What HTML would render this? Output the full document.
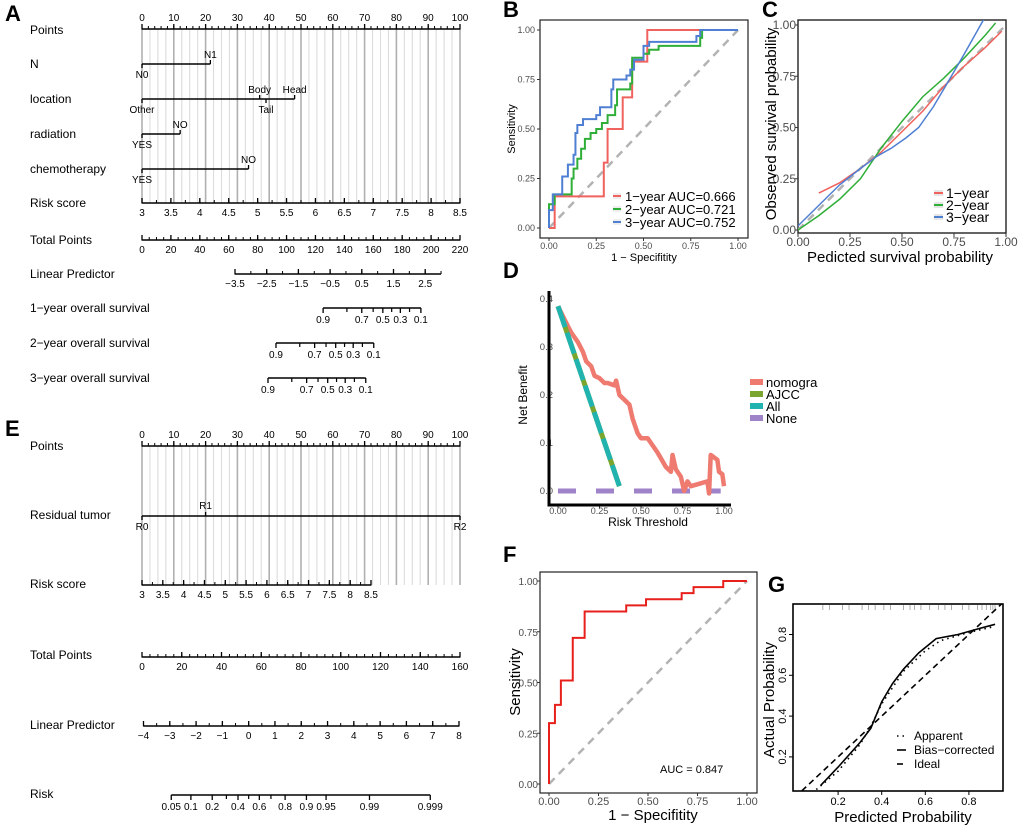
<!DOCTYPE html>
<html><head><meta charset="utf-8">
<style>
html,body{margin:0;padding:0;background:#fff;}
svg{display:block;font-family:"Liberation Sans",Arial,sans-serif;}
</style></head>
<body>
<svg id="fig" width="1020" height="827" viewBox="0 0 1020 827" xmlns="http://www.w3.org/2000/svg"></svg>
<script>
// ---------- data ----------
const ptsTicks=[0,10,20,30,40,50,60,70,80,90,100];
const nLevels=['N0','N1'];
const nPoints=[0,21.5];
const locLevels=['Other','Body','Tail','Head'];
const locPoints=[0,37,39,48];
const radLevels=['YES','NO'];
const radPoints=[0,12];
const chemoLevels=['YES','NO'];
const chemoPoints=[0,33.5];
const riskTicksA=[3,3.5,4,4.5,5,5.5,6,6.5,7,7.5,8,8.5];
const totalTicksA=[0,20,40,60,80,100,120,140,160,180,200,220];
const lpTicksA=[-3.5,-2.5,-1.5,-0.5,0.5,1.5,2.5];
const survLabels=[0.9,0.7,0.5,0.3,0.1];
const survMinor=[0.8,0.6,0.4,0.2];
const survConst=[1.53,0.043,-0.209];
const residLevels=['R0','R1','R2'];
const residPoints=[0,20,100];
const riskTicksE=[3,3.5,4,4.5,5,5.5,6,6.5,7,7.5,8,8.5];
const totalTicksE=[0,20,40,60,80,100,120,140,160];
const lpTicksE=[-4,-3,-2,-1,0,1,2,3,4,5,6,7,8];
const riskProbE=[0.05,0.1,0.2,0.4,0.6,0.8,0.9,0.95,0.99,0.999];
const riskProbMinorE=[0.3,0.5,0.7];

const rocB_fpr1=[0,0.03,0.29,0.31,0.39,0.44,0.52,1];
const rocB_tpr1=[0,0.16,0.33,0.5,0.66,0.84,1,1];
const rocB_fpr2=[0,0,0.03,0.12,0.13,0.15,0.17,0.19,0.22,0.25,0.28,0.31,0.35,0.36,0.43,0.44,0.5,0.53,0.58,0.78,0.8,0.81,1];
const rocB_tpr2=[0,0.12,0.17,0.25,0.3,0.35,0.4,0.45,0.48,0.5,0.53,0.57,0.62,0.7,0.73,0.86,0.88,0.9,0.92,0.92,0.96,1,1];
const rocB_fpr3=[0,0,0.02,0.07,0.1,0.13,0.14,0.15,0.18,0.25,0.27,0.33,0.34,0.41,0.43,0.45,0.5,0.53,0.76,0.78,0.8,1];
const rocB_tpr3=[0,0.09,0.17,0.26,0.32,0.37,0.48,0.52,0.55,0.57,0.61,0.7,0.75,0.77,0.8,0.85,0.92,0.94,0.94,0.97,1,1];
const rocTicks=[0,0.25,0.5,0.75,1];
const rocTickLabels=['0.00','0.25','0.50','0.75','1.00'];

const calC_x1=[0.1,0.2,0.3,0.4,0.5,0.6,0.7,0.8,0.9,0.98];
const calC_y1=[0.18,0.23,0.3,0.38,0.48,0.58,0.7,0.8,0.89,0.97];
const calC_x2=[0,0.1,0.2,0.3,0.4,0.5,0.6,0.7,0.8,0.9,0.95];
const calC_y2=[0,0.07,0.15,0.25,0.4,0.53,0.65,0.74,0.84,0.95,1.01];
const calC_x3=[0,0.1,0.2,0.3,0.38,0.45,0.52,0.58,0.65,0.72,0.8,0.85,0.9];
const calC_y3=[0.02,0.12,0.22,0.3,0.36,0.4,0.45,0.5,0.6,0.72,0.86,0.95,1.04];

const dcaThr=[0,0.05,0.08,0.12,0.15,0.17,0.2,0.22,0.25,0.28,0.3,0.34,0.35,0.37,0.4,0.43,0.45,0.48,0.5,0.54,0.56,0.6,0.65,0.68,0.69,0.71,0.74,0.76,0.78,0.8,0.85,0.9,0.91,0.92,0.96,0.97,0.99,1.0];
const dcaNomo=[0.385,0.35,0.33,0.31,0.29,0.27,0.26,0.24,0.235,0.225,0.225,0.22,0.23,0.2,0.19,0.18,0.15,0.12,0.11,0.11,0.1,0.08,0.05,0.04,0.075,0.045,0.03,0.0,0.02,0.01,0.015,0.02,-0.005,0.075,0.065,0.04,0.035,0.01];
const dcaAllThr=[0,0.37];
const dcaAll=[0.385,0.01];
const dcaNoneThr=[0,0.98];
const dcaNone=[0,0];
const dcaTicksY=[0,0.1,0.2,0.3,0.4];
const dcaTickLabelsY=['0.0','0.1','0.2','0.3','0.4'];

const rocF_fpr=[0,0,0.03,0.06,0.12,0.18,0.39,0.49,0.67,0.73,0.88,1];
const rocF_tpr=[0,0.3,0.39,0.51,0.72,0.85,0.88,0.91,0.94,0.97,1,1];

const calG_xb=[0.12,0.2,0.3,0.35,0.4,0.45,0.5,0.57,0.65,0.75,0.85,0.92];
const calG_yb=[0.06,0.15,0.27,0.34,0.47,0.56,0.63,0.71,0.78,0.8,0.83,0.85];
const calG_xa=[0.1,0.2,0.3,0.35,0.4,0.5,0.6,0.67,0.8,0.92];
const calG_ya=[0.04,0.13,0.26,0.35,0.46,0.62,0.72,0.77,0.81,0.84];
const calG_rug=[0.13,0.16,0.22,0.25,0.31,0.34,0.37,0.41,0.44,0.5,0.53,0.55,0.58,0.62,0.66,0.69,0.72,0.77,0.8,0.84,0.86,0.88,0.9,0.91,0.92];
const calGTicks=[0.2,0.4,0.6,0.8];

// ---------- helpers ----------
const NS='http://www.w3.org/2000/svg';
const svg=document.getElementById('fig');
function el(tag,attrs,parent,name){
  const e=document.createElementNS(NS,tag);
  for(const k in attrs) e.setAttribute(k,attrs[k]);
  
  
  (parent||svg).appendChild(e);
  return e;
}
function txt(parent,x,y,s,size,anchor,name,extra){
  const t=el('text',Object.assign({x:x,y:y,'font-size':size,'text-anchor':anchor||'middle'},extra||{}),parent,name);
  t.textContent=s;return t;
}
function line(p,x1,y1,x2,y2,st,w,name,extra){
  return el('line',Object.assign({x1:x1,y1:y1,x2:x2,y2:y2,stroke:st,'stroke-width':w},extra||{}),p,name);
}
function grp(name){return el('g',{},svg,name);}
function fmt(v){return String(v);}

// ---------- panel labels ----------
[['A',5,21],['B',503,17],['C',762,17],['D',503,278],['E',5,436],['F',503,562],['G',768,592]].forEach(function(a){
  txt(svg,a[1],a[2],a[0],22,'start','panel-label-'+a[0].toLowerCase(),{'font-weight':'bold'});
});

// ---------- nomogram helpers ----------
function vgrid(g,x,y0,y1,maxPts){
  for(let v=0;v<=maxPts+0.01;v+=2.5){
    const major=Math.abs(v%10)<0.01;
    line(g,x(v),y0,x(v),y1,major?'#b0b0b0':'#dcdcdc',major?1.6:1.1,'grid-line');
  }
}
function contAxis(g,y,xmap,ticks,minorStep,lo,hi,labelsAbove,prefix){
  line(g,xmap(lo),y,xmap(hi),y,'#000',1.4,prefix+'-axis-line');
  if(minorStep){
    for(let v=lo;v<=hi+1e-6;v+=minorStep){line(g,xmap(v),y,xmap(v),y-3,'#000',1,prefix+'-minor-tick');}
  }
  ticks.forEach(function(v){
    line(g,xmap(v),y+0.5,xmap(v),y-5,'#000',1.3,prefix+'-tick');
    txt(g,xmap(v),labelsAbove?y-8:y+13,fmt(v).replace('-','\u2212'),10,'middle',prefix+'-tick-label');
  });
}
function catAxis(g,y,xmap,levels,pts,prefix){
  line(g,xmap(Math.min.apply(null,pts)),y,xmap(Math.max.apply(null,pts)),y,'#000',1.4,prefix+'-axis-line');
  const idx=pts.map(function(p,i){return i;}).sort(function(a,b){return pts[a]-pts[b];});
  idx.forEach(function(i,k){
    const above=k%2===1;
    line(g,xmap(pts[i]),y,xmap(pts[i]),above?y-4:y+4,'#000',1.3,prefix+'-tick');
    txt(g,xmap(pts[i]),above?y-6:y+14,levels[i],10,'middle',prefix+'-level-label');
  });
}
function rowLabel(g,y,s,name){txt(g,30,y+4,s,12,'start',name);}

// ---------- Panel A ----------
(function(){
  const g=grp('nomogram-a');
  const px=function(v){return 142+v*3.18;};
  vgrid(g,px,29,203,100);
  rowLabel(g,30,'Points','points-label');
  contAxis(g,29,px,ptsTicks,2,0,100,true,'points');
  rowLabel(g,64,'N','n-label');
  catAxis(g,64,px,nLevels,nPoints,'n');
  rowLabel(g,99,'location','location-label');
  catAxis(g,99,px,locLevels,locPoints,'location');
  rowLabel(g,134,'radiation','radiation-label');
  catAxis(g,134,px,radLevels,radPoints,'radiation');
  rowLabel(g,169,'chemotherapy','chemotherapy-label');
  catAxis(g,169,px,chemoLevels,chemoPoints,'chemotherapy');
  rowLabel(g,203,'Risk score','risk-score-label');
  const rx=function(v){return 142+(v-3)*(318/5.5);};
  contAxis(g,203,rx,riskTicksA,0.25,3,8.5,false,'risk-score');
  rowLabel(g,240,'Total Points','total-points-label');
  const tx=function(v){return 142+v*(318/220);};
  contAxis(g,240,tx,totalTicksA,5,0,220,false,'total-points');
  rowLabel(g,274,'Linear Predictor','linear-predictor-label');
  const lx=function(v){return 235+(v+3.5)*31.7;};
  contAxis(g,274,lx,lpTicksA,0.5,-3.5,3.0,false,'linear-predictor');
  ['1\u2212year overall survival','2\u2212year overall survival','3\u2212year overall survival'].forEach(function(lab,i){
    const y=308+i*35;
    rowLabel(g,y,lab,'survival-'+(i+1)+'-year-label');
    const sx=function(s){return lx(Math.log(-Math.log(s))+survConst[i]);};
    line(g,sx(0.9),y,sx(0.1),y,'#000',1.4,'survival-axis-line');
    survMinor.forEach(function(s){line(g,sx(s),y,sx(s),y+4,'#000',1.2,'survival-minor-tick');});
    survLabels.forEach(function(s){
      line(g,sx(s),y,sx(s),y+5,'#000',1.3,'survival-tick');
      txt(g,sx(s),y+15,String(s),10,'middle','survival-tick-label');
    });
  });
})();

// ---------- Panel E ----------
(function(){
  const g=grp('nomogram-e');
  const px=function(v){return 142+v*3.18;};
  vgrid(g,px,446,585,100);
  rowLabel(g,446,'Points','points-label-e');
  contAxis(g,446,px,ptsTicks,2,0,100,true,'points-e');
  rowLabel(g,515,'Residual tumor','residual-tumor-label');
  line(g,px(0),516,px(100),516,'#000',1.4,'residual-axis-line');
  residLevels.forEach(function(l,i){
    const above=i===1;
    line(g,px(residPoints[i]),516,px(residPoints[i]),above?512:520,'#000',1.3,'residual-tick');
    txt(g,px(residPoints[i]),above?509:530,l,10,'middle','residual-level-label');
  });
  rowLabel(g,584,'Risk score','risk-score-label-e');
  const rx=function(v){return 142+(v-3)*(229/5.5);};
  contAxis(g,585,rx,riskTicksE,0.25,3,8.5,false,'risk-score-e');
  rowLabel(g,655,'Total Points','total-points-label-e');
  const tx=function(v){return 142+v*(318/160);};
  contAxis(g,657,tx,totalTicksE,4,0,160,false,'total-points-e');
  rowLabel(g,725,'Linear Predictor','linear-predictor-label-e');
  const lx=function(v){return 143.5+(v+4)*(315.5/12);};
  contAxis(g,726,lx,lpTicksE,0.5,-4,8,false,'linear-predictor-e');
  rowLabel(g,794,'Risk','risk-label-e');
  const kx=function(p){return lx(Math.log(p/(1-p)));};
  line(g,kx(0.05),795,kx(0.999),795,'#000',1.4,'risk-axis-line');
  riskProbMinorE.forEach(function(p){line(g,kx(p),795,kx(p),799,'#000',1.2,'risk-minor-tick');});
  riskProbE.forEach(function(p){
    line(g,kx(p),795,kx(p),800,'#000',1.3,'risk-tick');
    txt(g,kx(p),810,String(p),10,'middle','risk-tick-label');
  });
})();

// ---------- generic chart helpers ----------
function stepPath(xs,ys,sx,sy){
  let d='M'+sx(xs[0])+','+sy(ys[0]);
  for(let i=1;i<xs.length;i++){d+=' H'+sx(xs[i])+' V'+sy(ys[i]);}
  return d;
}
function polyPath(xs,ys,sx,sy){
  return xs.map(function(x,i){return (i?'L':'M')+sx(x)+','+sy(ys[i]);}).join(' ');
}

// ---------- Panel B ----------
(function(){
  const g=grp('roc-chart-b');
  const sx=function(v){return 549+v*189;}, sy=function(v){return 228-v*198;};
  el('rect',{x:540,y:20,width:208,height:218,fill:'none',stroke:'#222','stroke-width':1.2},g,'plot-frame');
  rocTicks.forEach(function(v,i){
    line(g,sx(v),238,sx(v),241,'#333',1,'x-tick');
    txt(g,sx(v),249,rocTickLabels[i],9,'middle','x-tick-label',{fill:'#4d4d4d'});
    line(g,537,sy(v),540,sy(v),'#333',1,'y-tick');
    txt(g,535,sy(v)+3,rocTickLabels[i],9,'end','y-tick-label',{fill:'#4d4d4d'});
  });
  txt(g,644,261,'1 \u2212 Specifitity',11,'middle','x-axis-title');
  txt(g,0,0,'Sensitivity',11,'middle','y-axis-title',{transform:'translate(515,129) rotate(-90)'});
  line(g,sx(0),sy(0),sx(1),sy(1),'#b3b3b3',2.5,'reference-diagonal',{'stroke-dasharray':'8,6'});
  el('path',{d:stepPath(rocB_fpr1,rocB_tpr1,sx,sy),fill:'none',stroke:'#f0625e','stroke-width':2},g,'roc-1-year');
  el('path',{d:stepPath(rocB_fpr2,rocB_tpr2,sx,sy),fill:'none',stroke:'#2fae38','stroke-width':2},g,'roc-2-year');
  el('path',{d:stepPath(rocB_fpr3,rocB_tpr3,sx,sy),fill:'none',stroke:'#4f7fd3','stroke-width':2},g,'roc-3-year');
  [['1\u2212year AUC=0.666','#f0625e'],['2\u2212year AUC=0.721','#2fae38'],['3\u2212year AUC=0.752','#4f7fd3']].forEach(function(a,i){
    const y=196+i*13;
    el('rect',{x:613,y:y-3,width:8,height:6,fill:'#eee'},g,'legend-key-bg');
    line(g,613,y,621,y,a[1],2,'legend-key');
    txt(g,625,y+5,a[0],13,'start','legend-entry');
  });
})();

// ---------- Panel C ----------
(function(){
  const g=grp('calibration-chart-c');
  const sx=function(v){return 798+v*208;}, sy=function(v){return 230-v*205;};
  const clip=el('clipPath',{id:'clipC'},g,'clip-c');
  el('rect',{x:798,y:20,width:208,height:213},clip,'clip-rect');
  el('rect',{x:798,y:20,width:208,height:213,fill:'none',stroke:'#222','stroke-width':1.4},g,'plot-frame');
  rocTicks.forEach(function(v,i){
    line(g,sx(v),233,sx(v),237,'#333',1,'x-tick');
    txt(g,sx(v),246,rocTickLabels[i],12,'middle','x-tick-label',{fill:'#4d4d4d'});
    line(g,795,sy(v),798,sy(v),'#333',1,'y-tick');
    txt(g,796,sy(v)+4,rocTickLabels[i],12,'end','y-tick-label',{fill:'#4d4d4d'});
  });
  txt(g,900,262,'Pedicted survival probability',15,'middle','x-axis-title');
  txt(g,0,0,'Observed survival probability',15,'middle','y-axis-title',{transform:'translate(776,124) rotate(-90)'});
  const cg=el('g',{'clip-path':'url(#clipC)'},g,'plot-lines');
  line(cg,sx(0),sy(0),sx(1),sy(1),'#b3b3b3',2.5,'ideal-diagonal',{'stroke-dasharray':'8,6'});
  el('path',{d:polyPath(calC_x1,calC_y1,sx,sy),fill:'none',stroke:'#f0625e','stroke-width':1.5},cg,'calibration-1-year');
  el('path',{d:polyPath(calC_x2,calC_y2,sx,sy),fill:'none',stroke:'#2fae38','stroke-width':1.5},cg,'calibration-2-year');
  el('path',{d:polyPath(calC_x3,calC_y3,sx,sy),fill:'none',stroke:'#4f7fd3','stroke-width':1.5},cg,'calibration-3-year');
  [['1\u2212year','#f0625e'],['2\u2212year','#2fae38'],['3\u2212year','#4f7fd3']].forEach(function(a,i){
    const y=193+i*12;
    el('rect',{x:934,y:y-3,width:9,height:6,fill:'#e6e6e6'},g,'legend-key-bg');
    line(g,934,y,943,y,a[1],2,'legend-key');
    txt(g,946,y+5,a[0],14,'start','legend-entry');
  });
})();

// ---------- Panel D ----------
(function(){
  const g=grp('decision-curve-d');
  const sx=function(v){return 558+v*166;}, sy=function(v){return 491-v*480;};
  dcaTicksY.forEach(function(v,i){
    txt(g,553,sy(v)+3,dcaTickLabelsY[i],9.5,'end','y-tick-label',{fill:'#4d4d4d'});
  });
  rocTicks.forEach(function(v,i){
    line(g,sx(v),505,sx(v),508,'#333',1,'x-tick');
    txt(g,sx(v),514,rocTickLabels[i],9,'middle','x-tick-label',{fill:'#4d4d4d'});
  });
  el('path',{d:'M549,291 V505 H731',fill:'none',stroke:'#000','stroke-width':3},g,'axis-lines');
  txt(g,648,526,'Risk Threshold',12,'middle','x-axis-title');
  txt(g,0,0,'Net Benefit',12,'middle','y-axis-title',{transform:'translate(527,395) rotate(-90)'});
  el('path',{d:polyPath(dcaNoneThr,dcaNone,sx,sy),fill:'none',stroke:'#9e83c8','stroke-width':5,'stroke-dasharray':'18,20'},g,'dca-none');
  el('path',{d:polyPath(dcaThr,dcaNomo,sx,sy),fill:'none',stroke:'#ee7a70','stroke-width':4.5,'stroke-linejoin':'round'},g,'dca-nomogram');
  el('path',{d:polyPath(dcaAllThr,dcaAll,sx,sy),fill:'none',stroke:'#7aa62f','stroke-width':5},g,'dca-ajcc');
  el('path',{d:polyPath(dcaAllThr,dcaAll,sx,sy),fill:'none',stroke:'#21b3b0','stroke-width':5,'stroke-dasharray':'22,6'},g,'dca-all');
  [['nomogra','#ee7a70'],['AJCC','#7aa62f'],['All','#21b3b0'],['None','#9e83c8']].forEach(function(a,i){
    const y=382+i*12;
    el('rect',{x:750,y:y-3,width:13,height:6,fill:a[1]},g,'legend-key');
    txt(g,766,y+5,a[0],13,'start','legend-entry');
  });
})();

// ---------- Panel F ----------
(function(){
  const g=grp('roc-chart-f');
  const sx=function(v){return 549+v*198;}, sy=function(v){return 784-v*203;};
  el('rect',{x:540,y:572,width:217,height:221,fill:'none',stroke:'#222','stroke-width':1.2},g,'plot-frame');
  rocTicks.forEach(function(v,i){
    line(g,sx(v),793,sx(v),796,'#333',1,'x-tick');
    txt(g,sx(v),805,rocTickLabels[i],11,'middle','x-tick-label',{fill:'#4d4d4d'});
    line(g,537,sy(v),540,sy(v),'#333',1,'y-tick');
    txt(g,538,sy(v)+4,rocTickLabels[i],10,'end','y-tick-label',{fill:'#4d4d4d'});
  });
  txt(g,653,820,'1 \u2212 Specifitity',15,'middle','x-axis-title');
  txt(g,0,0,'Sensitivity',15,'middle','y-axis-title',{transform:'translate(520,682) rotate(-90)'});
  line(g,sx(0),sy(0),sx(1),sy(1),'#b3b3b3',2.5,'reference-diagonal',{'stroke-dasharray':'8,6'});
  el('path',{d:stepPath(rocF_fpr,rocF_tpr,sx,sy),fill:'none',stroke:'#e8201c','stroke-width':2},g,'roc-curve');
  txt(g,660,773,'AUC = 0.847',11,'start','auc-label');
})();

// ---------- Panel G ----------
(function(){
  const g=grp('calibration-chart-g');
  const sx=function(v){return 794.5+v*218;}, sy=function(v){return 797.7-v*204;};
  const clip=el('clipPath',{id:'clipG'},g,'clip-g');
  el('rect',{x:793,y:604,width:210,height:187},clip,'clip-rect');
  el('rect',{x:793,y:604,width:210,height:187,fill:'none',stroke:'#000','stroke-width':1.6},g,'plot-frame');
  calGTicks.forEach(function(v){
    line(g,sx(v),791,sx(v),795,'#000',1,'x-tick');
    txt(g,sx(v),805,String(v),11,'middle','x-tick-label');
    line(g,789,sy(v),793,sy(v),'#000',1,'y-tick');
    txt(g,0,0,String(v),11,'middle','y-tick-label',{transform:'translate(786,'+sy(v)+') rotate(-90)'});
  });
  calG_rug.forEach(function(v){line(g,sx(v),605,sx(v),610,'#999',0.8,'rug-tick');});
  txt(g,903,822,'Predicted Probability',15,'middle','x-axis-title');
  txt(g,0,0,'Actual Probability',15,'middle','y-axis-title',{transform:'translate(774,700) rotate(-90)'});
  const cg=el('g',{'clip-path':'url(#clipG)'},g,'plot-lines');
  line(cg,sx(0),sy(0),sx(1),sy(1),'#000',1.6,'ideal-line',{'stroke-dasharray':'6,4'});
  el('path',{d:polyPath(calG_xa,calG_ya,sx,sy),fill:'none',stroke:'#000','stroke-width':1.6,'stroke-dasharray':'1.5,4'},cg,'apparent-curve');
  el('path',{d:polyPath(calG_xb,calG_yb,sx,sy),fill:'none',stroke:'#000','stroke-width':1.6},cg,'bias-corrected-curve');
  [['Apparent','1.5,4'],['Bias\u2212corrected','none'],['Ideal','6,4']].forEach(function(a,i){
    const y=736+i*14;
    line(g,897,y,906,y,'#000',1.6,'legend-key',{'stroke-dasharray':a[1]});
    txt(g,914,y+4,a[0],12,'start','legend-entry');
  });
})();
</script>
</body></html>
